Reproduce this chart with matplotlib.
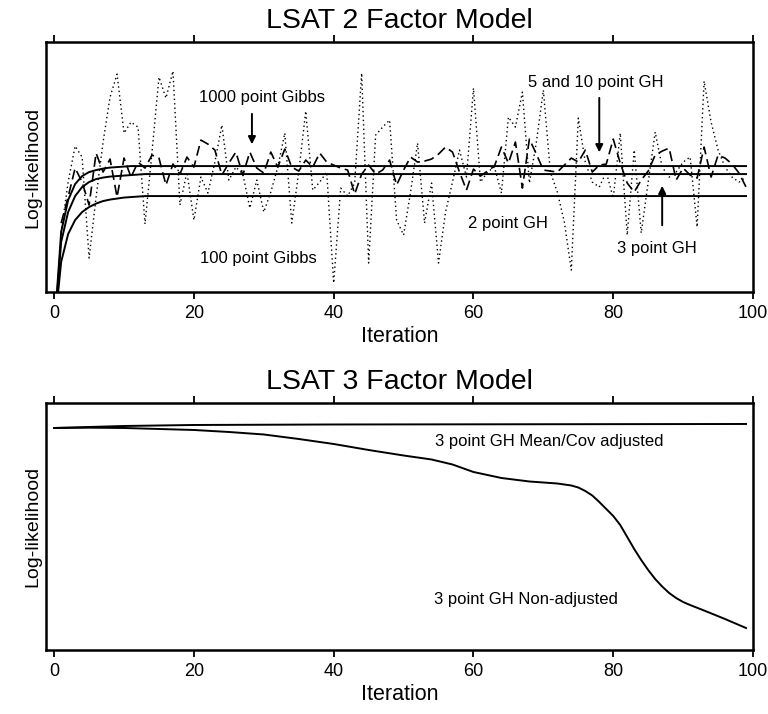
import matplotlib
matplotlib.use("Agg")
import matplotlib.pyplot as plt

plt.rcParams["font.family"] = ["Liberation Sans", "DejaVu Sans"]

# ---- LSAT 2 factor model (arbitrary log-likelihood units)
iters = list(range(0, 100))
gibbs_iters = list(range(1, 100))

gibbs100 = [60, 110, 146, 135, 34, 95, 150, 195, 218, 159,
            170, 165, 68, 140, 215, 194, 221, 87, 120, 72,
            115, 99, 130, 167, 112, 125, 118, 84, 112, 80,
            100, 125, 159, 69, 120, 181, 102, 110, 120, 9,
            104, 96, 109, 219, 29, 157, 165, 172, 72, 57,
            100, 149, 69, 109, 29, 80, 110, 142, 115, 204,
            110, 120, 125, 99, 175, 165, 200, 109, 150, 202,
            120, 100, 70, 22, 174, 130, 110, 105, 120, 94,
            159, 57, 142, 59, 110, 160, 125, 115, 120, 130,
            135, 65, 211, 170, 142, 125, 115, 110, 115]

gibbs1000 = [69, 95, 124, 110, 87, 139, 120, 133, 95, 134,
             115, 130, 124, 137, 134, 107, 128, 118, 135, 125,
             152, 148, 142, 117, 129, 140, 117, 140, 124, 119,
             140, 125, 143, 125, 121, 132, 125, 139, 130, 127,
             124, 122, 98, 118, 127, 118, 122, 132, 107, 122,
             135, 130, 131, 133, 138, 145, 140, 120, 102, 123,
             116, 121, 126, 145, 129, 150, 104, 153, 138, 122,
             121, 120, 127, 134, 130, 142, 120, 127, 128, 153,
             129, 109, 100, 112, 121, 137, 141, 144, 112, 124,
             117, 114, 145, 115, 137, 134, 128, 119, 105]

gh5_10_start = [-40, 60, 92, 108, 116, 120, 122, 123.5, 124.5, 125, 125.5]
gh3_start = [-40, 50, 80, 96, 105, 110, 113, 114.5, 115.5, 116, 116.5, 117, 117.5]
gh2_start = [-40, 30, 58, 72, 80, 85, 88.5, 91, 92.5, 93.5, 94.5, 95, 95.5]
gh5_10 = gh5_10_start + [126] * (100 - len(gh5_10_start))
gh3 = gh3_start + [118] * (100 - len(gh3_start))
gh2 = gh2_start + [96] * (100 - len(gh2_start))

# ---- LSAT 3 factor model
adj_iters = [0, 5, 10, 20, 40, 99]
adjusted = [222, 223, 224, 225, 225.5, 226]
non_iters = [0, 5, 10, 15, 20, 25, 30, 35, 40, 45, 50, 54, 57, 60, 64, 68, 72,
             74, 75, 76, 77, 78, 79, 80, 81, 82, 83, 84, 85, 86, 87, 88, 89,
             90, 91, 93, 96, 99]
non_adjusted = [222, 222.3, 222, 221, 220, 218, 215.5, 211, 206, 200, 194.5, 190.5,
                185.5, 178, 172, 168.5, 166.5, 164.5, 162.5, 159, 154.5, 148, 141,
                134, 125, 113, 101, 90, 80, 71, 63.5, 57, 52, 48, 45, 39.5, 31, 22]

fig = plt.figure(figsize=(7.68, 7.14), dpi=100)
ax1 = fig.add_axes([0.0605, 0.591, 0.92, 0.35])
ax2 = fig.add_axes([0.0605, 0.0896, 0.92, 0.346])

lw = 1.4
ax1.plot(gibbs_iters, gibbs100, color="black", lw=1.0, linestyle=(0, (1, 2.2)))
ax1.plot(gibbs_iters, gibbs1000, color="black", lw=1.2, linestyle=(0, (6, 3)))
ax1.plot(iters, gh5_10, color="black", lw=lw)
ax1.plot(iters, gh3, color="black", lw=lw)
ax1.plot(iters, gh2, color="black", lw=lw)
ax1.set_ylim(0, 250)

arrow = dict(arrowstyle="-|>", color="black", lw=1.4, mutation_scale=11)
ax1.text(29.7, 195, "1000 point Gibbs", ha="center", va="center", fontsize=12)
ax1.annotate("", xy=(28.3, 145), xytext=(28.3, 181), arrowprops=arrow)
ax1.text(77.5, 210, "5 and 10 point GH", ha="center", va="center", fontsize=12)
ax1.annotate("", xy=(78, 137), xytext=(78, 197), arrowprops=arrow)
ax1.text(65, 69, "2 point GH", ha="center", va="center", fontsize=12)
ax1.text(86.2, 44, "3 point GH", ha="center", va="center", fontsize=12)
ax1.annotate("", xy=(87, 109), xytext=(87, 64), arrowprops=arrow)
ax1.text(29.2, 34, "100 point Gibbs", ha="center", va="center", fontsize=12)

ax2.plot(adj_iters, adjusted, color="black", lw=lw)
ax2.plot(non_iters, non_adjusted, color="black", lw=lw)
ax2.set_ylim(0, 247)
ax2.text(54.5, 208, "3 point GH Mean/Cov adjusted", ha="left", va="center", fontsize=12)
ax2.text(54.3, 51, "3 point GH Non-adjusted", ha="left", va="center", fontsize=12)

for ax, title in [(ax1, "LSAT 2 Factor Model"), (ax2, "LSAT 3 Factor Model")]:
    ax.set_xlim(-1.1, 100)
    ax.set_xticks([0, 20, 40, 60, 80, 100])
    ax.set_yticks([])
    ax.tick_params(axis="x", direction="out", length=5, width=1.3, labelsize=13,
                   top=True, pad=4)
    for s in ax.spines.values():
        s.set_linewidth(1.8)
    ax.set_xlabel("Iteration", fontsize=15.5, labelpad=3)
    ax.set_ylabel("Log-likelihood", fontsize=14, labelpad=4)
    ax.set_title(title, fontsize=20.5, pad=10)

fig.savefig("out.png", dpi=100)
